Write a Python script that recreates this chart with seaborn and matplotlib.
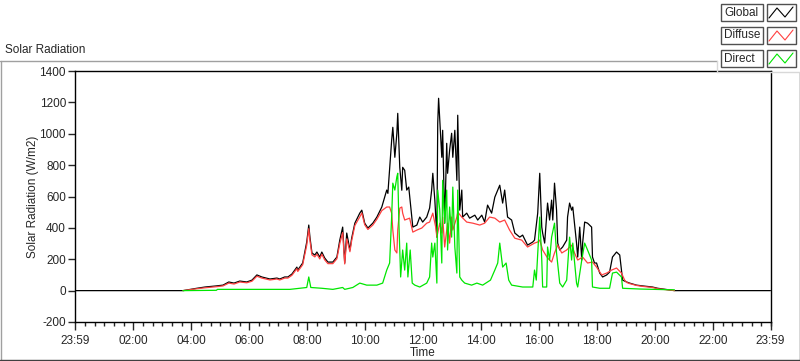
import numpy as np
import pandas as pd
import seaborn as sns
import matplotlib.pyplot as plt
from matplotlib.lines import Line2D
from matplotlib.patches import Rectangle

# time in decimal hours, radiation in W/m2
global_h = [0, 3.71, 4.19, 4.47, 4.86, 5.09, 5.29, 5.47, 5.67, 5.91, 6.09, 6.26, 6.43, 6.71, 6.95,
            7.05, 7.22, 7.33, 7.47, 7.64, 7.67, 7.84, 7.98, 8.05, 8.09, 8.16, 8.26, 8.33, 8.43, 8.50,
            8.60, 8.71, 8.88, 9.02, 9.12, 9.22, 9.29, 9.36, 9.47, 9.53, 9.64, 9.81, 9.88, 9.98, 10.09,
            10.26, 10.40, 10.57, 10.74, 10.78, 10.91, 10.95, 11.02, 11.09, 11.12, 11.19, 11.26, 11.29,
            11.36, 11.43, 11.50, 11.57, 11.64, 11.78, 11.88, 11.98, 12.12, 12.22, 12.29, 12.33, 12.40,
            12.47, 12.50, 12.53, 12.64, 12.67, 12.74, 12.81, 12.84, 12.91, 12.98, 13.02, 13.09, 13.16,
            13.19, 13.26, 13.33, 13.36, 13.50, 13.60, 13.78, 13.88, 14.02, 14.12, 14.22, 14.36, 14.47,
            14.57, 14.64, 14.74, 14.81, 14.91, 15.05, 15.16, 15.33, 15.43, 15.60, 15.78, 15.84, 15.91,
            15.95, 16.02, 16.09, 16.12, 16.19, 16.29, 16.36, 16.43, 16.47, 16.53, 16.60, 16.64, 16.71,
            16.81, 16.95, 16.98, 17.05, 17.12, 17.16, 17.29, 17.33, 17.40, 17.47, 17.50, 17.57, 17.67,
            17.81, 17.84, 17.91, 17.98, 18.09, 18.19, 18.33, 18.43, 18.53, 18.67, 18.78, 18.84, 18.88,
            19.02, 19.12, 19.36, 19.57, 19.91, 20.09, 20.67, 23.98]
global_w = [0, 0, 15, 23, 30, 35, 55, 48, 61, 55, 67, 100, 87, 74, 80,
            74, 87, 87, 106, 150, 131, 176, 310, 418, 341, 240, 227, 246, 214, 246,
            208, 182, 182, 214, 322, 405, 176, 367, 259, 334, 430, 494, 513, 430, 399,
            430, 469, 533, 641, 620, 958, 1041, 850, 1003, 1130, 786, 640, 786,
            767, 641, 660, 533, 405, 418, 469, 437, 469, 526, 641, 748, 577,
            341, 1067, 1226, 850, 1022, 430, 939, 748, 894, 1003, 850, 1022, 703,
            1118, 513, 641, 469, 494, 462, 481, 450, 481, 437, 545, 494, 596,
            641, 672, 558, 641, 469, 450, 367, 341, 354, 290, 310, 322, 430,
            494, 748, 405, 367, 303, 558, 450, 577, 450, 685, 513, 303, 259,
            278, 322, 469, 558, 513, 533, 303, 214, 405, 195, 303, 437, 430,
            405, 214, 176, 176, 112, 87, 100, 118, 214, 246, 227, 131, 67,
            55, 48, 35, 30, 23, 15, 0, 0]

diffuse_h = [3.71, 4.19, 4.47, 4.86, 5.09, 5.29, 5.47, 5.67, 5.91, 6.09, 6.26, 6.43, 6.71, 6.95,
             7.05, 7.22, 7.33, 7.47, 7.64, 7.67, 7.84, 7.98, 8.05, 8.09, 8.16, 8.26, 8.33, 8.43, 8.50,
             8.60, 8.71, 8.88, 9.02, 9.12, 9.22, 9.29, 9.36, 9.47, 9.53, 9.64, 9.81, 9.88, 9.98, 10.09,
             10.26, 10.40, 10.57, 10.74, 10.84, 10.91, 10.95, 11.02, 11.09, 11.12, 11.19, 11.26, 11.29,
             11.36, 11.53, 11.64, 11.78, 11.95, 12.12, 12.22, 12.33, 12.43, 12.47, 12.57, 12.64, 12.67,
             12.74, 12.81, 12.84, 12.91, 12.98, 13.02, 13.16, 13.19, 13.33, 13.50, 13.71, 13.95, 14.12,
             14.29, 14.47, 14.64, 14.81, 14.98, 15.16, 15.40, 15.60, 15.84, 15.95, 16.02, 16.12, 16.29,
             16.43, 16.53, 16.64, 16.78, 16.95, 17.12, 17.22, 17.33, 17.50, 17.67, 17.84, 17.98, 18.16,
             18.33, 18.50, 18.67, 18.84, 18.95, 19.02, 19.12, 19.36, 19.57, 19.91, 20.09, 20.67]
diffuse_w = [0, 12, 18, 25, 30, 48, 42, 55, 50, 60, 92, 80, 68, 74,
             68, 80, 80, 98, 140, 122, 165, 290, 395, 320, 228, 215, 232, 202, 232,
             196, 172, 172, 203, 300, 370, 170, 330, 248, 318, 415, 470, 495, 420, 390,
             418, 455, 510, 533, 533, 494, 386, 259, 240, 386, 526, 533, 494,
             450, 462, 373, 386, 399, 430, 437, 494, 405, 341, 430, 367, 469,
             278, 386, 430, 303, 469, 386, 469, 500, 469, 437, 430, 418, 430,
             469, 462, 437, 450, 386, 334, 322, 278, 303, 310, 322, 259, 208,
             182, 240, 290, 240, 259, 290, 240, 195, 214, 176, 182, 150, 100,
             112, 131, 144, 112, 67, 52, 45, 33, 27, 20, 12, 0]

direct_h = [3.71, 4.86, 4.90, 7.40, 7.98, 8.05, 8.12, 8.50, 8.88, 9.22, 9.29, 9.57, 9.81, 10.05,
            10.40, 10.60, 10.74, 10.84, 10.91, 10.95, 11.02, 11.09, 11.12, 11.16, 11.22, 11.29, 11.36,
            11.43, 11.47, 11.55, 11.62, 11.71, 11.88, 12.12, 12.22, 12.29, 12.33, 12.40, 12.47, 12.50,
            12.57, 12.64, 12.67, 12.74, 12.81, 12.84, 12.91, 12.98, 13.02, 13.09, 13.16, 13.19, 13.26,
            13.33, 13.43, 13.67, 13.85, 14.05, 14.32, 14.47, 14.57, 14.64, 14.74, 14.86, 14.95, 15.05,
            15.43, 15.78, 15.84, 15.90, 16.02, 16.09, 16.12, 16.26, 16.29, 16.36, 16.43, 16.53, 16.60,
            16.71, 16.81, 16.95, 17.05, 17.12, 17.16, 17.29, 17.33, 17.47, 17.57, 17.67, 17.81, 17.84,
            18.09, 18.43, 18.53, 18.67, 18.84, 18.88, 19.50, 20.67]
direct_w = [0, 2, 8, 8, 20, 87, 20, 15, 8, 20, 8, 20, 48, 35,
            35, 48, 131, 176, 469, 685, 641, 726, 748, 430, 87, 259, 131,
            303, 87, 259, 48, 35, 23, 48, 87, 303, 214, 303, 48, 641,
            513, 176, 703, 430, 641, 259, 533, 341, 660, 278, 112, 641, 87,
            67, 48, 35, 48, 35, 67, 131, 176, 303, 150, 176, 67, 35,
            23, 23, 131, 67, 469, 195, 23, 23, 278, 195, 341, 430, 240,
            48, 23, 67, 341, 195, 303, 48, 23, 195, 303, 259, 195, 23,
            15, 15, 112, 118, 87, 15, 10, 5]

series_names = ['Global', 'Diffuse', 'Direct']
series_colors = ['black', '#ff4040', '#00e600']
tick_hours = [-1 / 60, 2, 4, 6, 8, 10, 12, 14, 16, 18, 20, 22, 23 + 59 / 60]
tick_labels = ['23:59', '02:00', '04:00', '06:00', '08:00', '10:00', '12:00',
               '14:00', '16:00', '18:00', '20:00', '22:00', '23:59']

sns.set_style('ticks')
plt.rcParams['font.family'] = ['Liberation Sans', 'DejaVu Sans']
plt.rcParams['font.size'] = 8
plt.rcParams['axes.unicode_minus'] = False

W, H = 800, 361
fig = plt.figure(figsize=(W / 100, H / 100), dpi=100)
fig.patch.set_facecolor('white')

def fx(x):
    return x / W

def fy(y):
    return 1 - y / H

ax = fig.add_axes([fx(75), fy(322), fx(771) - fx(75), fy(71) - fy(322)])

frames = {
    'Global': pd.DataFrame({'t': global_h, 'w': global_w}),
    'Diffuse': pd.DataFrame({'t': diffuse_h, 'w': diffuse_w}),
    'Direct': pd.DataFrame({'t': direct_h, 'w': direct_w}),
}
for name, col in zip(series_names, series_colors):
    sns.lineplot(data=frames[name], x='t', y='w', ax=ax, color=col, lw=0.9,
                 estimator=None, legend=False)

ax.set_xlim(tick_hours[0], tick_hours[-1])
ax.set_ylim(-200, 1400)
ax.set_yticks(range(-200, 1401, 200))
ax.set_xticks(tick_hours)
ax.set_xticklabels(tick_labels)
ax.set_xticks(np.arange(1 / 3, 24, 1 / 3), minor=True)
ax.tick_params(axis='x', which='major', length=6, width=1, pad=3, labelsize=8.5)
ax.tick_params(axis='x', which='minor', length=3, width=1)
ax.tick_params(axis='y', which='major', length=5, width=1, pad=1.5, labelsize=8.5)
for s in ax.spines.values():
    s.set_visible(True)
    s.set_linewidth(1)
    s.set_color('black')
ax.set_xlabel('Time', fontsize=8.5)
ax.set_ylabel('Solar Radiation (W/m2)', fontsize=8.5, labelpad=0)
ax.xaxis.set_label_coords(0.5, -0.1)

# panel frame around the graph
gray = '#a0a0a0'
fig.add_artist(Line2D([fx(0), fx(717)], [fy(61), fy(61)], color=gray, lw=1))
fig.add_artist(Line2D([fx(0.5), fx(0.5)], [fy(61), fy(361)], color=gray, lw=1))
fig.add_artist(Line2D([fx(0), fx(800)], [fy(360), fy(360)], color='#404040', lw=1))
fig.add_artist(Line2D([fx(799.5), fx(799.5)], [fy(72), fy(361)], color='#404040', lw=1))
fig.add_artist(Line2D([fx(717), fx(800)], [fy(71.5), fy(71.5)], color='#d8d8d8', lw=1))
fig.add_artist(Line2D([fx(717), fx(717)], [fy(61), fy(72)], color='#d8d8d8', lw=1))
fig.text(fx(5), fy(50), 'Solar Radiation', fontsize=8.5, va='center', ha='left')

# legend: label boxes and sample boxes
row_tops = [4, 27, 50]
for name, col, top in zip(series_names, series_colors, row_tops):
    bottom = top + 17
    fig.add_artist(Rectangle((fx(721), fy(bottom)), fx(763) - fx(721), fy(top) - fy(bottom),
                             transform=fig.transFigure, facecolor='white',
                             edgecolor='#505050', lw=1))
    fig.add_artist(Rectangle((fx(767), fy(bottom)), fx(796) - fx(767), fy(top) - fy(bottom),
                             transform=fig.transFigure, facecolor='white',
                             edgecolor='#505050', lw=1))
    fig.text(fx(724), fy(top + 8.5), name, fontsize=8.5, va='center', ha='left')
    zx = [769, 777, 785, 793]
    zy = [top + 14, top + 4, top + 13, top + 3]
    fig.add_artist(Line2D([fx(v) for v in zx], [fy(v) for v in zy], color=col, lw=0.8))

fig.savefig('out.png', dpi=100, facecolor='white')
